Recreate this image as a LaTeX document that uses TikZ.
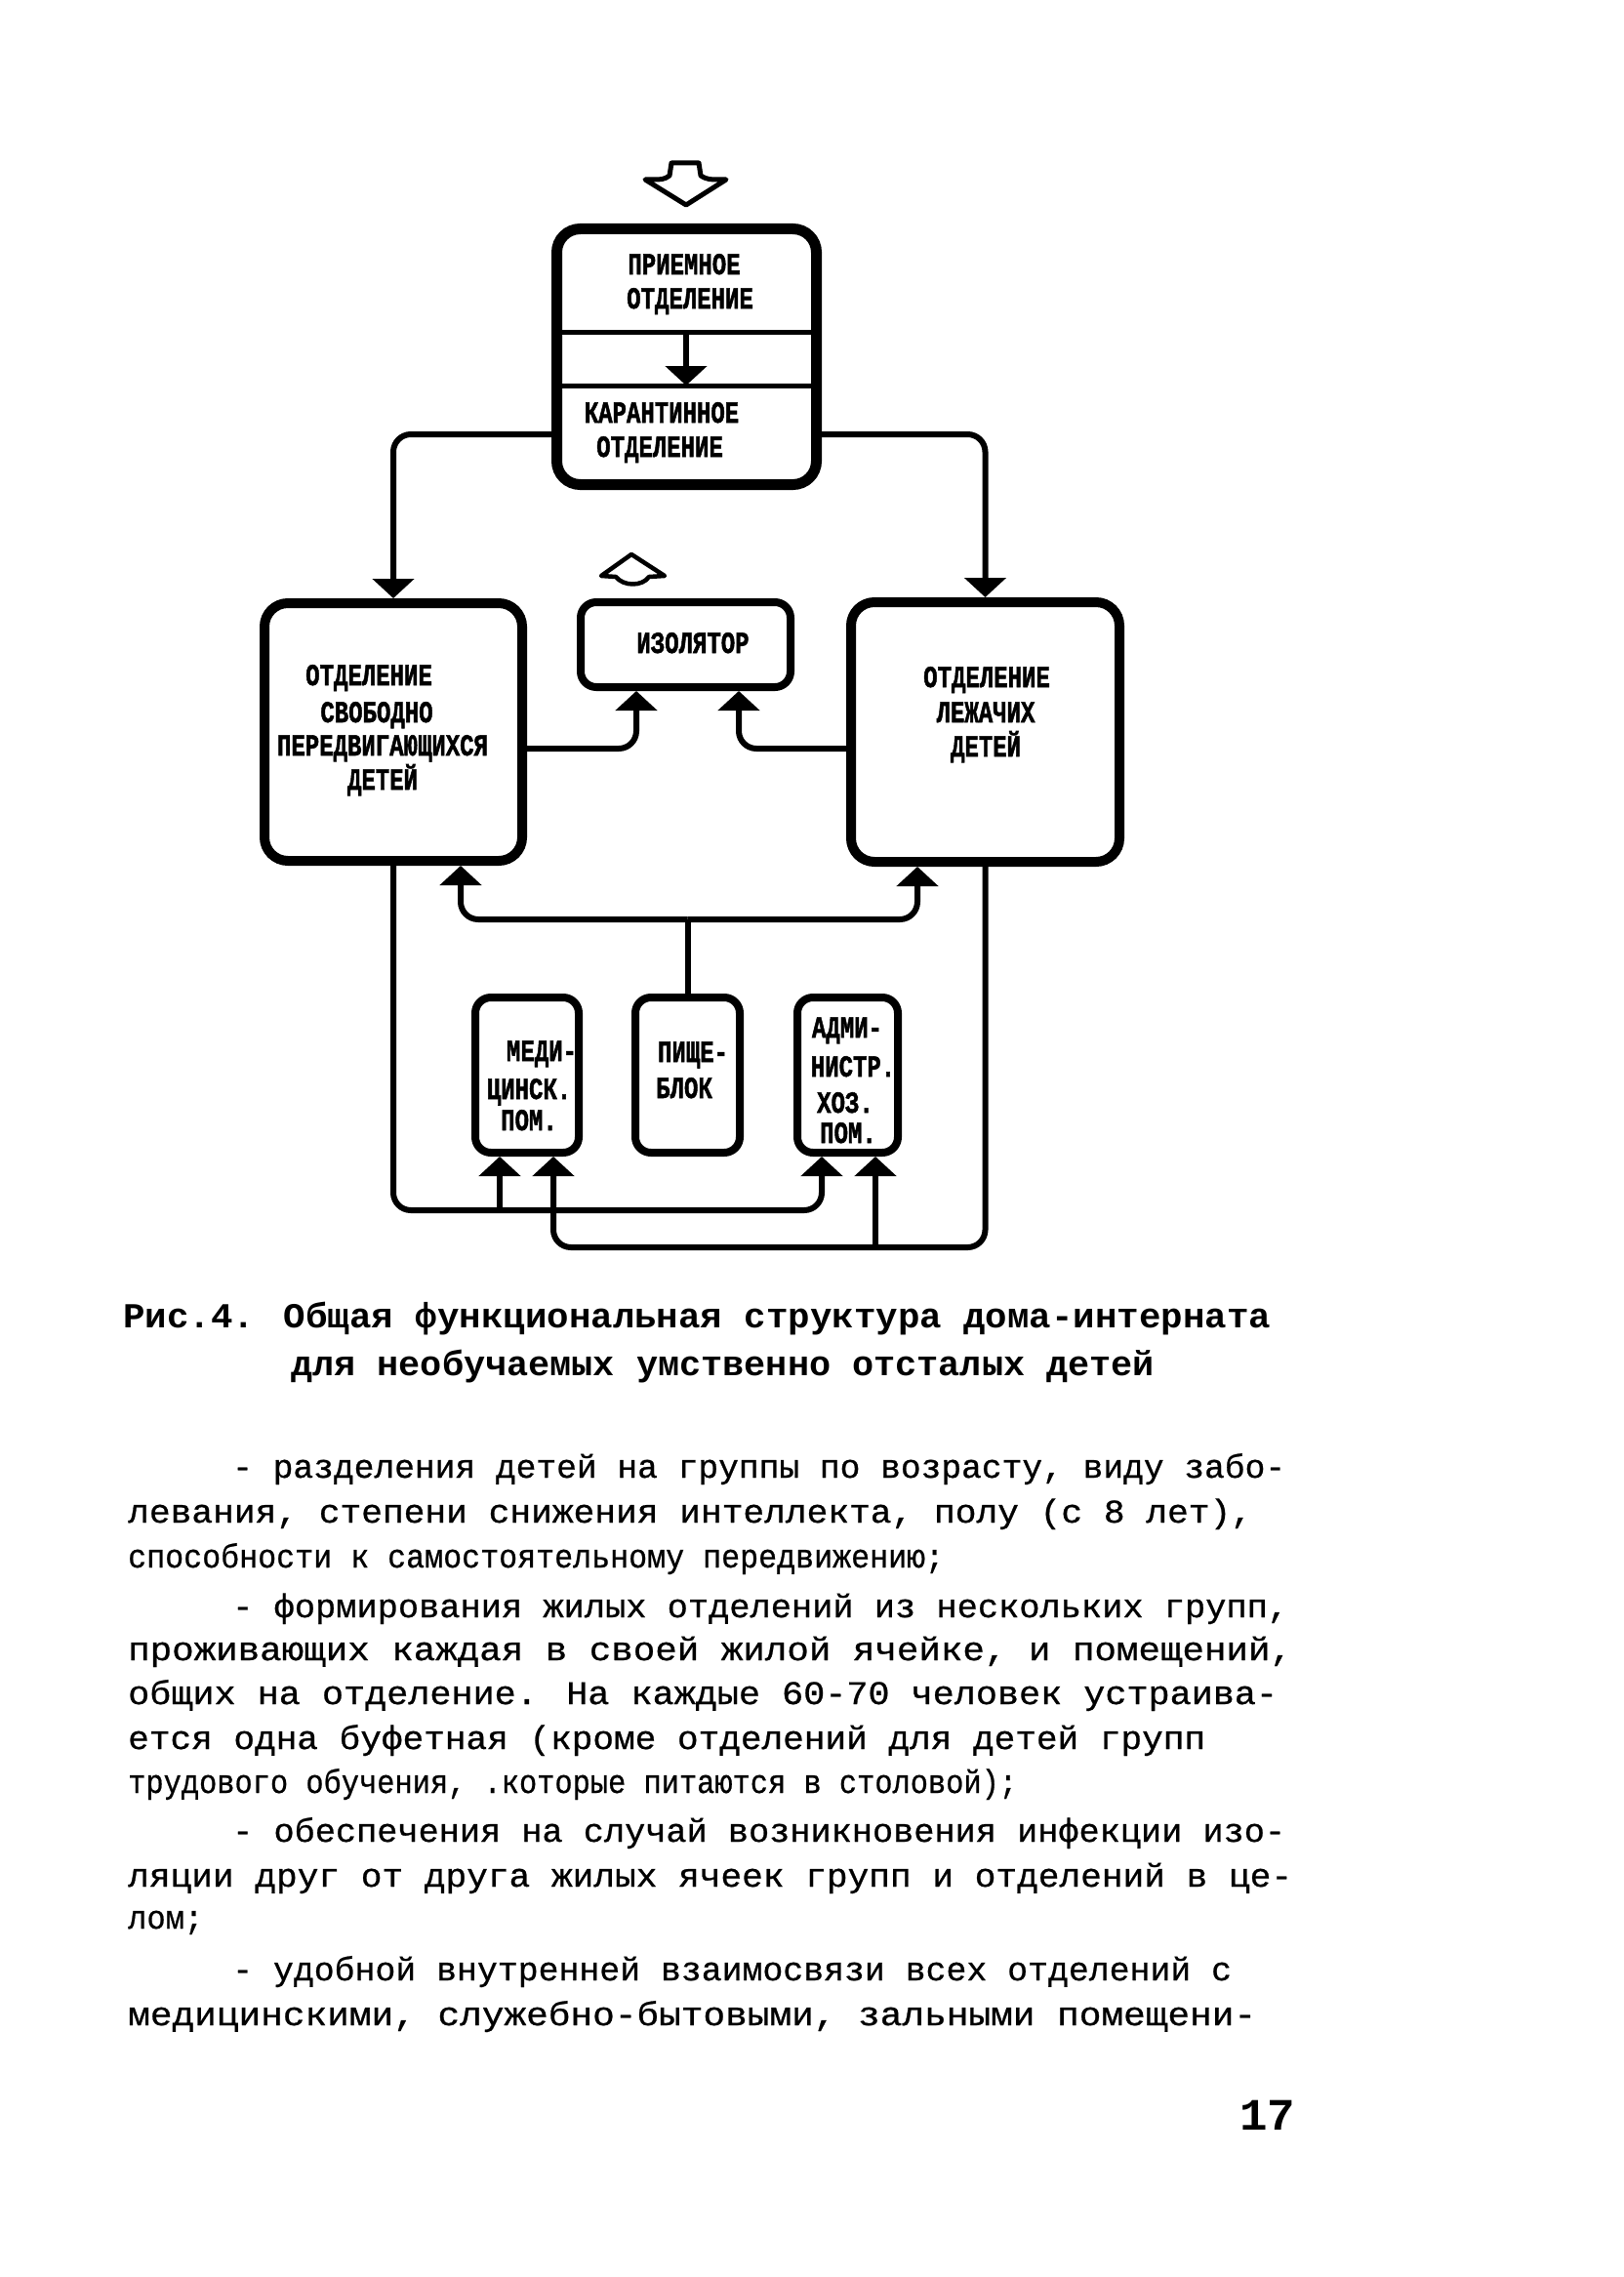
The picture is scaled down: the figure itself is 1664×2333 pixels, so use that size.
\documentclass[tikz,border=0pt]{standalone}
\usepackage{fontspec}
\usepackage{graphicx}
\setmainfont{Liberation Mono}[UprightFeatures={FakeBold=0.7}]
\newfontfamily\lblfont{Liberation Mono}[BoldFeatures={FakeBold=1.8}]
\usetikzlibrary{arrows.meta}
\newcommand{\tl}[1]{\scalebox{1}[1.3]{#1}}
\newcommand{\fitw}[2]{\resizebox{#1pt}{\height}{#2}}
\begin{document}
\begin{tikzpicture}[x=1pt,y=-1pt,
  >={Triangle[width=42pt,length=20pt]},
  bigbox/.style={draw, line width=10pt, rounded corners=24pt, inner sep=0pt},
  smallbox/.style={draw, line width=8pt, rounded corners=16pt, inner sep=0pt},
  conn/.style={line width=6pt, rounded corners=18pt},
  lbl/.style={anchor=base, inner sep=0pt, font=\lblfont\bfseries\fontsize{24}{26}\selectfont},
  body/.style={anchor=base west, inner sep=0pt, font=\fontsize{34}{40}\selectfont},
  capt/.style={anchor=base west, inner sep=0pt, font=\bfseries\fontsize{36}{40}\selectfont},
  hollow/.style={draw, fill=white, line join=round}
]
\useasboundingbox (0,0) rectangle (1664,2333);
\fill[white] (0,0) rectangle (1664,2333);

% top hollow input arrow
\draw[hollow, line width=5pt] (688,167) -- (716,167) -- (718,180) .. controls (725,184) .. (744,184) -- (703,210) -- (661,184) .. controls (680,184) .. (686,180) -- cycle;

% boxes
\node[bigbox, line width=11pt, minimum width=266pt, minimum height=262pt] (top) at (703.5,365.5) {};
\node[bigbox, minimum width=264pt, minimum height=264pt] (left) at (403,750) {};
\node[smallbox, minimum width=215pt, minimum height=87pt] (iso) at (702.5,660.5) {};
\node[bigbox, minimum width=275pt, minimum height=266pt] (right) at (1009.5,750) {};
\node[smallbox, minimum width=106pt, minimum height=159pt] (med) at (540,1101.5) {};
\node[smallbox, minimum width=107pt, minimum height=159pt] (pish) at (704.5,1101.5) {};
\node[smallbox, minimum width=103pt, minimum height=159pt] (adm) at (868.5,1101.5) {};

% small hollow arrow above isolator
\draw[hollow, line width=4.5pt] (616,590) -- (647,568) -- (681,590) -- (665,591) .. controls (658,601) and (639,601) .. (631,591) -- cycle;

% top box interior
\coordinate (d1) at (703,340);
\coordinate (d2) at (703,395);
\draw[line width=5pt] (top.west |- d1) -- (top.east |- d1);
\draw[line width=5pt] (top.west |- d2) -- (top.east |- d2);
\draw[conn,->] (d1) -- (d2);

% labels
\node[lbl] (t1) at (701,281) {\tl{ПРИЕМНОЕ}};
\node[lbl] (t2) at (707,316) {\tl{ОТДЕЛЕНИЕ}};
\node[lbl] (t3) at (678,433) {\tl{КАРАНТИННОЕ}};
\node[lbl] (t4) at (676,468) {\tl{ОТДЕЛЕНИЕ}};
\node[lbl] (l1) at (378,702) {\tl{ОТДЕЛЕНИЕ}};
\node[lbl] (l2) at (386,740) {\tl{СВОБОДНО}};
\node[lbl] (l3) at (392,774) {\tl{ПЕРЕДВИГАЮЩИХСЯ}};
\node[lbl] (l4) at (392,809) {\tl{ДЕТЕЙ}};
\node[lbl] (i1) at (710,669) {\tl{ИЗОЛЯТОР}};
\node[lbl] (r1) at (1011,704) {\tl{ОТДЕЛЕНИЕ}};
\node[lbl] (r2) at (1010,740) {\tl{ЛЕЖАЧИХ}};
\node[lbl] (r3) at (1010,775) {\tl{ДЕТЕЙ}};
\node[lbl] (m1) at (555,1087) {\tl{МЕДИ-}};
\node[lbl] (m2) at (542,1126) {\tl{ЦИНСК.}};
\node[lbl] (m3) at (542,1158) {\tl{ПОМ.}};
\node[lbl] (p1) at (710,1088) {\tl{ПИЩЕ-}};
\node[lbl] (p2) at (701,1125) {\tl{БЛОК}};
\node[lbl] (a1) at (868,1063) {\tl{АДМИ-}};
\node[lbl] (a2) at (874,1103) {\tl{НИСТР.}};
\node[lbl] (a3) at (866,1140) {\tl{ХОЗ.}};
\node[lbl] (a4) at (869,1171) {\tl{ПОМ.}};

% junction points
\coordinate (aL) at (403,445);
\coordinate (aR) at (1009.5,445);
\coordinate (cL) at (652,767);
\coordinate (cR) at (757,767);
\coordinate (eC) at (704.5,942);
\coordinate (eL) at (472,942);
\coordinate (eR) at (940,942);
\coordinate (fL) at (403,1240);
\coordinate (fM) at (512,1240);
\coordinate (fR) at (842,1240);
\coordinate (gR) at (1009.5,1278);
\coordinate (gM) at (897,1278);
\coordinate (gL) at (567,1278);

% connectors
\draw[conn,->] (top.west |- aL) -- (aL) -- (left.north);
\draw[conn,->] (top.east |- aR) -- (aR) -- (right.north);
\draw[conn,->] (left.east |- cL) -- (cL) -- (cL |- iso.south);
\draw[conn,->] (right.west |- cR) -- (cR) -- (cR |- iso.south);
\draw[conn] (pish.north) -- (eC);
\draw[conn,->] (eC) -- (eL) -- (eL |- left.south);
\draw[conn,->] (eC) -- (eR) -- (eR |- right.south);
\draw[conn,->] (left.south) -- (fL) -- (fR) -- (fR |- adm.south);
\draw[conn,->] (fM) -- (fM |- med.south);
\draw[conn,->] (right.south) -- (gR) -- (gL) -- (gL |- med.south);
\draw[conn,->] (gM) -- (gM |- adm.south);

% caption
\node[capt] (c1) at (126,1360) {\fitw{1176}{Рис.4. Общая  функциональная  структура дома-интерната}};
\node[capt] (c2) at (298,1409) {\fitw{885}{для необучаемых умственно отсталых детей}};

% body text
\node[body] (b1) at (238,1514) {\fitw{1079}{- разделения детей на группы по возрасту, виду забо-}};
\node[body] (b2) at (131,1560) {\fitw{1152}{левания, степени снижения интеллекта, полу (с 8 лет),}};
\node[body] (b3) at (131,1606) {\fitw{836}{способности к самостоятельному передвижению;}};
\node[body] (b4) at (238,1657) {\fitw{1082}{- формирования жилых отделений из нескольких групп,}};
\node[body] (b5) at (131,1701) {\fitw{1193}{проживающих каждая в своей жилой ячейке, и помещений,}};
\node[body] (b6) at (131,1746) {\fitw{1178}{общих на отделение. На каждые 60-70 человек устраива-}};
\node[body] (b7) at (131,1792) {\fitw{1104}{ется одна буфетная (кроме отделений для детей групп}};
\node[body] (b8) at (131,1837) {\fitw{911}{трудового обучения, .которые питаются в столовой);}};
\node[body] (b9) at (238,1887) {\fitw{1079}{- обеспечения на случай возникновения инфекции изо-}};
\node[body] (b10) at (131,1933) {\fitw{1193}{ляции друг от друга жилых ячеек групп и отделений в це-}};
\node[body] (b11) at (131,1976) {\fitw{77}{лом;}};
\node[body] (b12) at (238,2029) {\fitw{1024}{- удобной внутренней взаимосвязи всех отделений с}};
\node[body] (b13) at (131,2075) {\fitw{1156}{медицинскими, служебно-бытовыми, зальными помещени-}};

% page number
\node[capt, font=\bfseries\fontsize{46}{50}\selectfont] (pg) at (1270,2182) {\fitw{57}{17}};
\end{tikzpicture}
\end{document}
